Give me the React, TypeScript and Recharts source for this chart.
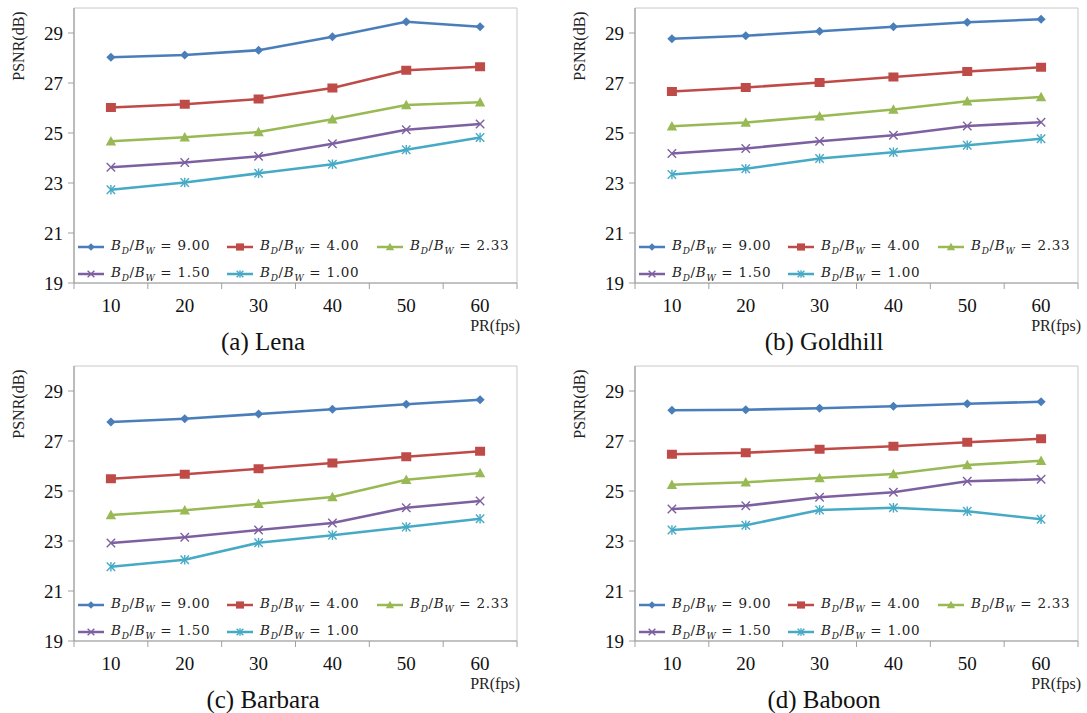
import React from 'react';
import { LineChart, Line, XAxis, YAxis, ReferenceArea, Legend, Label } from 'recharts';

// ---- data ----
const fps = [10, 20, 30, 40, 50, 60];
const ratioLabels = ['9.00', '4.00', '2.33', '1.50', '1.00'];
const xTicks = [5, 10, 15, 20, 25, 30, 35, 40, 45, 50, 55, 60, 65];
const yTicks = [19, 21, 23, 25, 27, 29];

const lena900 = [28.03, 28.12, 28.31, 28.85, 29.45, 29.25];
const lena400 = [26.02, 26.15, 26.36, 26.8, 27.51, 27.65];
const lena233 = [24.67, 24.83, 25.04, 25.55, 26.12, 26.23];
const lena150 = [23.63, 23.82, 24.07, 24.57, 25.13, 25.36];
const lena100 = [22.73, 23.02, 23.39, 23.75, 24.33, 24.82];

const gold900 = [28.77, 28.89, 29.07, 29.25, 29.43, 29.55];
const gold400 = [26.66, 26.82, 27.02, 27.24, 27.46, 27.63];
const gold233 = [25.27, 25.42, 25.67, 25.94, 26.27, 26.44];
const gold150 = [24.18, 24.38, 24.67, 24.91, 25.28, 25.43];
const gold100 = [23.34, 23.57, 23.98, 24.23, 24.51, 24.77];

const barb900 = [27.76, 27.89, 28.08, 28.27, 28.47, 28.65];
const barb400 = [25.49, 25.67, 25.89, 26.12, 26.37, 26.59];
const barb233 = [24.04, 24.23, 24.49, 24.76, 25.45, 25.72];
const barb150 = [22.92, 23.15, 23.44, 23.72, 24.33, 24.6];
const barb100 = [21.97, 22.25, 22.93, 23.23, 23.56, 23.89];

const babo900 = [28.23, 28.25, 28.31, 28.39, 28.49, 28.57];
const babo400 = [26.47, 26.53, 26.67, 26.79, 26.95, 27.09];
const babo233 = [25.25, 25.35, 25.52, 25.68, 26.04, 26.21];
const babo150 = [24.28, 24.41, 24.75, 24.95, 25.39, 25.47];
const babo100 = [23.44, 23.63, 24.24, 24.33, 24.19, 23.87];

const captions = ['(a) Lena', '(b) Goldhill', '(c) Barbara', '(d) Baboon'];

// ---- styles ----
const KEYS = ['s900', 's400', 's233', 's150', 's100'];
const COLORS = ['#4A7EBB', '#BE4B48', '#98B954', '#7D60A0', '#46AAC5'];
const SHAPES = ['diamond', 'square', 'triangle', 'x', 'star'];
const SERIF = '"Liberation Serif", "DejaVu Serif", serif';

function buildRows(series: number[][]) {
  return fps.map((f, i) => {
    const row: any = { fps: f };
    KEYS.forEach((k, j) => (row[k] = series[j][i]));
    return row;
  });
}

const panels = [
  buildRows([lena900, lena400, lena233, lena150, lena100]),
  buildRows([gold900, gold400, gold233, gold150, gold100]),
  buildRows([barb900, barb400, barb233, barb150, barb100]),
  buildRows([babo900, babo400, babo233, babo150, babo100]),
];

function Marker({ shape, cx, cy, color, s = 1 }: any) {
  if (cx == null || cy == null) return null;
  if (shape === 'diamond') {
    const r = 4.6 * s;
    return <polygon points={`${cx},${cy - r} ${cx + r},${cy} ${cx},${cy + r} ${cx - r},${cy}`} fill={color} />;
  }
  if (shape === 'square') {
    const w = 10 * s, h = 9 * s;
    return <rect x={cx - w / 2} y={cy - h / 2} width={w} height={h} fill={color} />;
  }
  if (shape === 'triangle') {
    const r = 5.2 * s;
    return <polygon points={`${cx},${cy - r} ${cx + r},${cy + r * 0.8} ${cx - r},${cy + r * 0.8}`} fill={color} />;
  }
  const r = 4.2 * s;
  return (
    <g stroke={color} strokeWidth={1.4} fill="none">
      <line x1={cx - r} y1={cy - r} x2={cx + r} y2={cy + r} />
      <line x1={cx - r} y1={cy + r} x2={cx + r} y2={cy - r} />
      {shape === 'star' && <line x1={cx} y1={cy - r * 1.15} x2={cx} y2={cy + r * 1.15} />}
    </g>
  );
}

function XTick(props: any) {
  const { x, y, payload } = props;
  const v = payload.value;
  if (v % 10 === 0) {
    return (
      <text x={x} y={y + 29} textAnchor="middle" fontFamily={SERIF} fontSize={19} fill="#111">
        {v}
      </text>
    );
  }
  return <line x1={x} y1={y} x2={x} y2={y + 6} stroke="#a0a0a0" strokeWidth={1} />;
}

function LegendLabel({ text }: { text: string }) {
  return (
    <span style={{ fontFamily: '"DejaVu Serif", serif', fontSize: 13.5, letterSpacing: 0.7, color: '#222', whiteSpace: 'nowrap' }}>
      <i>B</i>
      <sub style={{ fontSize: 9, fontStyle: 'italic' }}>D</sub>/<i>B</i>
      <sub style={{ fontSize: 9, fontStyle: 'italic' }}>W</sub> = {text}
    </span>
  );
}

function LegendContent() {
  return (
    <div style={{ display: 'grid', gridTemplateColumns: '149px 150px 150px', rowGap: 8 }}>
      {KEYS.map((k, i) => (
        <div key={k} style={{ display: 'flex', alignItems: 'center', height: 19 }}>
          <svg width={28} height={14} style={{ marginRight: 5, flex: 'none' }}>
            <line x1={0} y1={7} x2={26} y2={7} stroke={COLORS[i]} strokeWidth={2.5} />
            <Marker shape={SHAPES[i]} cx={13} cy={7} color={COLORS[i]} s={0.8} />
          </svg>
          <LegendLabel text={ratioLabels[i]} />
        </div>
      ))}
    </div>
  );
}

function Panel({ rows, caption, left, top }: any) {
  return (
    <div style={{ position: 'absolute', left, top, width: 526, height: 355 }}>
      <LineChart width={526} height={355} data={rows} margin={{ top: 8, right: 9, left: 20, bottom: 42 }}>
        <ReferenceArea x1={5} x2={65} y1={19} y2={30} fill="none" stroke="#c8c8c8" strokeWidth={1} />
        <XAxis
          dataKey="fps"
          type="number"
          domain={[5, 65]}
          ticks={xTicks}
          interval={0}
          tickLine={false}
          tickSize={0}
          tickMargin={0}
          tick={<XTick />}
          axisLine={{ stroke: '#a0a0a0', strokeWidth: 1.2 }}
          height={30}
        >
          <Label
            content={({ viewBox }: any) => (
              <text
                x={viewBox.x + viewBox.width + 3}
                y={viewBox.y + 48}
                textAnchor="end"
                fontFamily={SERIF}
                fontSize={16}
                fill="#222"
              >
                PR(fps)
              </text>
            )}
          />
        </XAxis>
        <YAxis
          type="number"
          domain={[19, 30]}
          ticks={yTicks}
          interval={0}
          width={54}
          tickSize={6}
          tickMargin={5}
          tick={{ fontFamily: SERIF, fontSize: 19, fill: '#111' }}
          tickLine={{ stroke: '#a0a0a0' }}
          axisLine={{ stroke: '#a0a0a0', strokeWidth: 1.2 }}
        >
          <Label
            content={({ viewBox }: any) => {
              const x = viewBox.x - 2;
              const y = viewBox.y + 38;
              return (
                <text
                  x={x}
                  y={y}
                  transform={`rotate(-90, ${x}, ${y})`}
                  textAnchor="middle"
                  dominantBaseline="central"
                  fontFamily={SERIF}
                  fontSize={16}
                  fill="#222"
                >
                  PSNR(dB)
                </text>
              );
            }}
          />
        </YAxis>
        <Legend
          layout="horizontal"
          verticalAlign="middle"
          align="center"
          content={<LegendContent />}
          wrapperStyle={{ position: 'absolute', left: 78, top: 237, width: 460, height: 50 }}
        />
        {KEYS.map((k, i) => (
          <Line
            key={k}
            dataKey={k}
            stroke={COLORS[i]}
            strokeWidth={2.6}
            isAnimationActive={false}
            dot={(p: any) => <Marker key={`${k}-${p.index}`} shape={SHAPES[i]} cx={p.cx} cy={p.cy} color={COLORS[i]} />}
            activeDot={false}
          />
        ))}
      </LineChart>
      <div
        style={{
          position: 'absolute',
          left: 113,
          top: 327,
          width: 300,
          textAlign: 'center',
          fontFamily: SERIF,
          fontSize: 25,
          lineHeight: '30px',
          color: '#111',
        }}
      >
        {caption}
      </div>
    </div>
  );
}

export default function App() {
  return (
    <div style={{ position: 'absolute', left: 0, top: 0, width: 1087, height: 713, background: '#fff', overflow: 'hidden' }}>
      <Panel rows={panels[0]} caption={captions[0]} left={0} top={0} />
      <Panel rows={panels[1]} caption={captions[1]} left={561} top={0} />
      <Panel rows={panels[2]} caption={captions[2]} left={0} top={358} />
      <Panel rows={panels[3]} caption={captions[3]} left={561} top={358} />
    </div>
  );
}
